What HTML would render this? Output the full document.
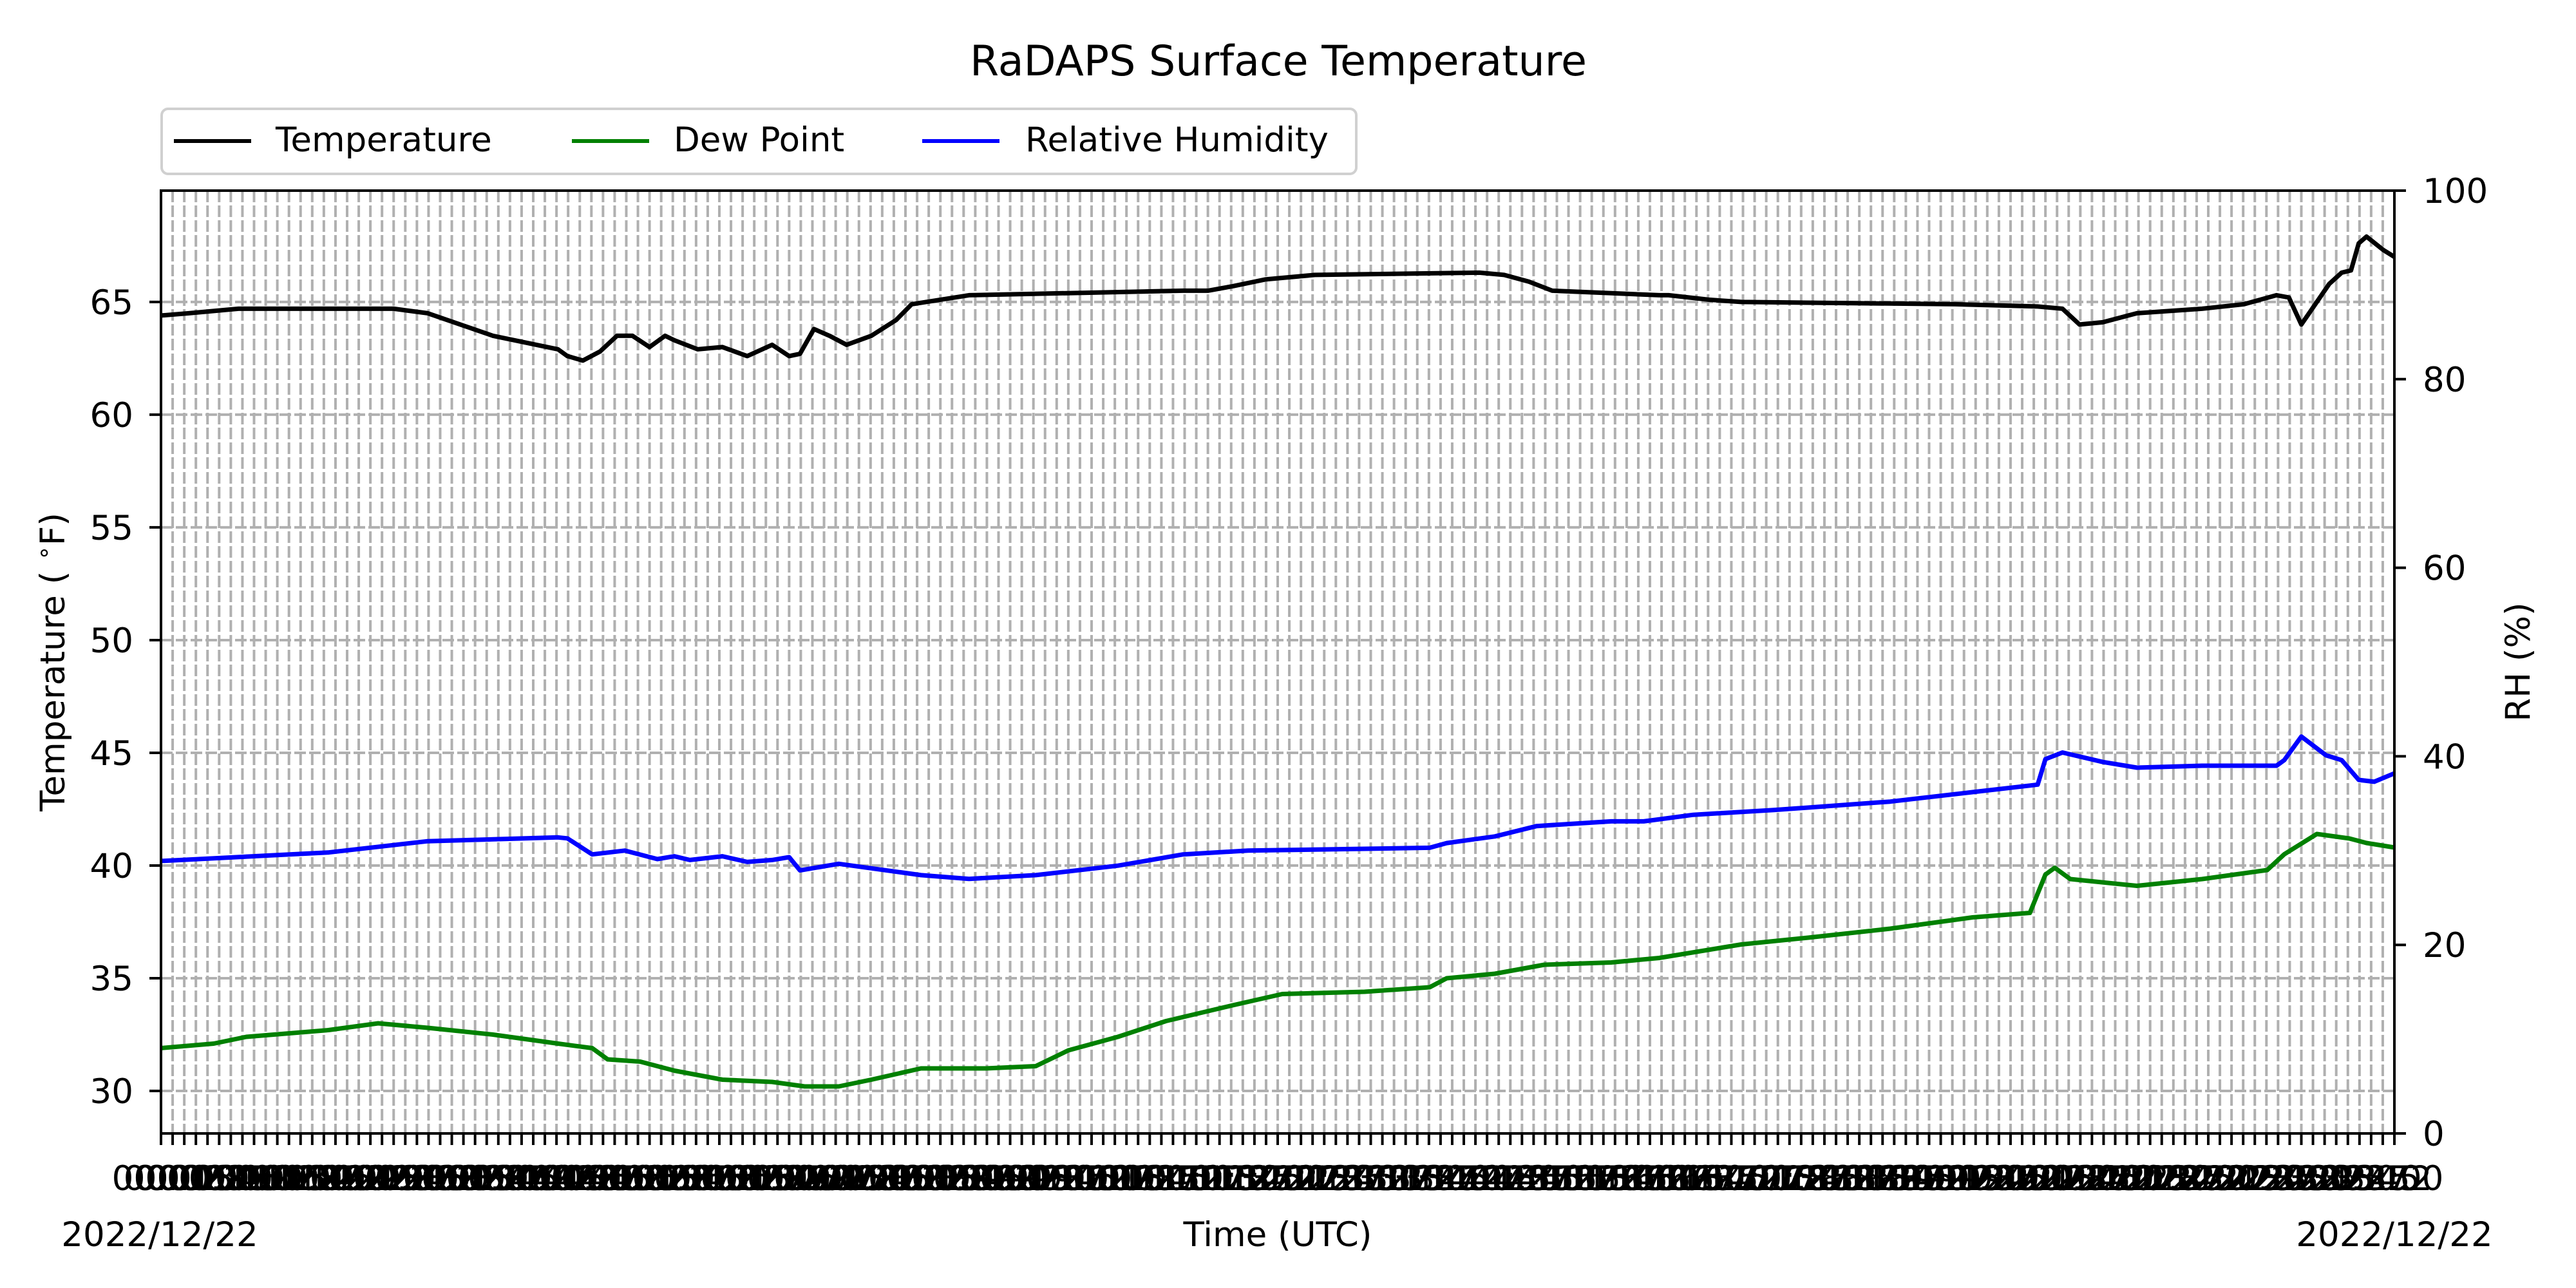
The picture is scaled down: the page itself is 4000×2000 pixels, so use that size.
<!DOCTYPE html>
<html><head><meta charset="utf-8"><style>
html,body{margin:0;padding:0;background:#fff;}
svg{display:block;font-family:"DejaVu Sans","Liberation Sans",sans-serif;}
</style></head><body>
<svg id="chart" width="4000" height="2000" viewBox="0 0 4000 2000" xmlns="http://www.w3.org/2000/svg">
<rect width="4000" height="2000" fill="#fff"/>
<g id="grid"></g>
<g id="series"></g>
<g id="axes"></g>
<text x="1985" y="117" font-size="65" text-anchor="middle">RaDAPS Surface Temperature</text>
<text transform="translate(100,1028) rotate(-90)" font-size="53" text-anchor="middle">Temperature ( <tspan font-size="36" dy="-20">∘</tspan><tspan dy="20">F)</tspan></text>
<text transform="translate(3928,1028) rotate(-90)" font-size="53" text-anchor="middle">RH (%)</text>
<text x="1984" y="1935" font-size="53" text-anchor="middle">Time (UTC)</text>
<text x="248" y="1935" font-size="53" text-anchor="middle">2022/12/22</text>
<text x="3718" y="1935" font-size="53" text-anchor="middle">2022/12/22</text>
<g>
<rect x="251" y="169" width="1855" height="101" rx="10" fill="#fff" stroke="#d0d0d0" stroke-width="4"/>
<line x1="270" y1="219" x2="390" y2="219" stroke="#000" stroke-width="6"/>
<text x="428" y="235" font-size="53">Temperature</text>
<line x1="888" y1="219" x2="1008" y2="219" stroke="#008000" stroke-width="6"/>
<text x="1046" y="235" font-size="53">Dew Point</text>
<line x1="1432" y1="219" x2="1552" y2="219" stroke="#0000ff" stroke-width="6"/>
<text x="1592" y="235" font-size="53">Relative Humidity</text>
</g>
</svg>
<script>
const tempMin=[0,18,50,150,172,193,214,235,256,262,272,283,294,304,315,325,331,346,362,378,394,405,412,421,431,442,458,474,484,521,659,675,691,712,744,850,866,882,897,966,972,998,1019,1157,1210,1226,1237,1252,1274,1316,1343,1364,1372,1380,1388,1398,1406,1412,1417,1422,1433,1440];
const tempVal=[64.4,64.5,64.7,64.7,64.5,64.0,63.5,63.2,62.9,62.6,62.4,62.8,63.5,63.5,63.0,63.5,63.3,62.9,63.0,62.6,63.1,62.6,62.7,63.8,63.5,63.1,63.5,64.2,64.9,65.3,65.5,65.5,65.7,66.0,66.2,66.3,66.2,65.9,65.5,65.3,65.3,65.1,65.0,64.9,64.8,64.7,64.0,64.1,64.5,64.7,64.9,65.3,65.2,64.0,64.8,65.8,66.3,66.4,67.6,67.9,67.3,67.0];
const dewMin=[0,34,55,108,140,172,214,256,278,288,309,331,362,394,415,437,458,490,532,564,585,617,648,691,723,776,818,829,860,892,935,966,1019,1062,1115,1168,1205,1215,1221,1231,1274,1316,1358,1369,1390,1411,1422,1440];
const dewVal=[31.9,32.1,32.4,32.7,33.0,32.8,32.5,32.1,31.9,31.4,31.3,30.9,30.5,30.4,30.2,30.2,30.5,31.0,31.0,31.1,31.8,32.4,33.1,33.8,34.3,34.4,34.6,35.0,35.2,35.6,35.7,35.9,36.5,36.8,37.2,37.7,37.9,39.6,39.9,39.4,39.1,39.4,39.8,40.5,41.4,41.2,41.0,40.8];
const rhMin=[0,108,172,256,262,278,299,320,331,341,362,378,394,405,412,437,490,521,564,617,659,701,818,829,860,887,935,956,988,1040,1115,1168,1205,1210,1215,1226,1252,1274,1316,1364,1369,1380,1396,1406,1417,1427,1440];
const rhVal=[28.9,29.8,31.0,31.4,31.3,29.6,30.0,29.1,29.4,29.0,29.4,28.8,29.0,29.3,27.9,28.6,27.4,27.0,27.4,28.4,29.6,30.0,30.3,30.8,31.5,32.6,33.1,33.1,33.8,34.3,35.2,36.2,36.9,37.0,39.7,40.4,39.4,38.8,39.0,39.0,39.6,42.1,40.1,39.6,37.5,37.3,38.2];
const leftTicks=[30,35,40,45,50,55,60,65];
const rightTicks=[0,20,40,60,80,100];
const xTickStep=7.5;

const L=250,R=3718,T=296,B=1760;
const tMin=28.114,tMax=69.94;
const xs=m=>L+(R-L)*m/1440;
const yT=v=>B-(B-T)*(v-tMin)/(tMax-tMin);
const yR=v=>B-(B-T)*v/100;
const NS='http://www.w3.org/2000/svg';
function mk(tag,attrs,parent){const e=document.createElementNS(NS,tag);for(const k in attrs)e.setAttribute(k,attrs[k]);parent.appendChild(e);return e;}
const grid=document.getElementById('grid'),axes=document.getElementById('axes'),series=document.getElementById('series');
for(let i=0;i*xTickStep<=1440;i++){
  const m=i*xTickStep,x=xs(m);
  const g=mk('line',{x1:x,y1:T,x2:x,y2:B,stroke:'#b0b0b0','stroke-width':4,'stroke-dasharray':'18 5'},grid);
  
  
  const t=mk('line',{x1:x,y1:B,x2:x,y2:B+18,stroke:'#000','stroke-width':4},axes);
  
  
  const hh=Math.floor(m/60),mm=Math.floor(m%60);
  const lb=mk('text',{x:x,y:1848,'font-size':53,'text-anchor':'middle'},axes);
  
  
  lb.textContent=String(hh).padStart(2,'0')+':'+String(mm).padStart(2,'0');
}
leftTicks.forEach(v=>{
  const y=yT(v);
  const g=mk('line',{x1:L,y1:y,x2:R,y2:y,stroke:'#b0b0b0','stroke-width':4,'stroke-dasharray':'18 5'},grid);
  
  
  const t=mk('line',{x1:L-18,y1:y,x2:L,y2:y,stroke:'#000','stroke-width':4},axes);
  
  
  const lb=mk('text',{x:207,y:y+19,'font-size':53,'text-anchor':'end'},axes);
  
  
  lb.textContent=v;
});
rightTicks.forEach(v=>{
  const y=yR(v);
  const t=mk('line',{x1:R,y1:y,x2:R+18,y2:y,stroke:'#000','stroke-width':4},axes);
  
  
  const lb=mk('text',{x:3762,y:y+19,'font-size':53},axes);
  
  
  lb.textContent=v;
});
const frame=mk('rect',{x:L,y:T,width:R-L,height:B-T,fill:'none',stroke:'#000','stroke-width':4},axes);


function line(xsArr,vals,yf,color,name){
  const d=xsArr.map((m,i)=>(i?'L':'M')+xs(m).toFixed(1)+','+yf(vals[i]).toFixed(1)).join(' ');
  const p=mk('path',{d:d,fill:'none',stroke:color,'stroke-width':7,'stroke-linejoin':'round'},series);
  
  
}
line(tempMin,tempVal,yT,'#000','temperature-line');
line(dewMin,dewVal,yT,'#008000','dewpoint-line');
line(rhMin,rhVal,yR,'#0000ff','rh-line');
</script>
</body></html>
